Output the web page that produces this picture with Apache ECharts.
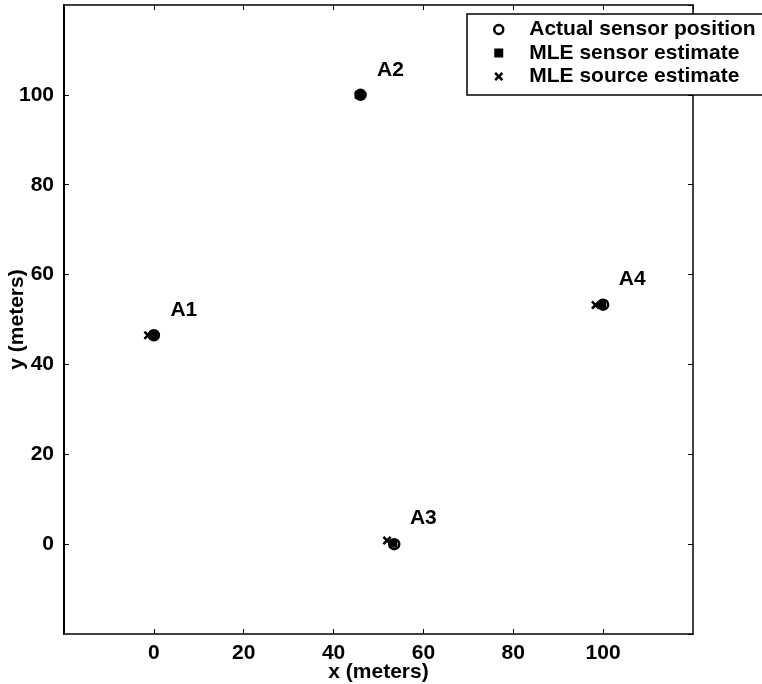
<!DOCTYPE html>
<html><head><meta charset="utf-8">
<script src="https://cdn.jsdelivr.net/npm/echarts@6/dist/echarts.min.js"></script>
<style>html,body{margin:0;padding:0;background:#fff}#c{width:762px;height:684px}</style>
</head><body><div id="c"></div>
<script>
const sensorNames = ['A1','A2','A3','A4'];
const actualSensor = [[0,46.5],[46,100],[53.5,0],[100,53.3]];
const mleSensor = [[0,46.5],[46,100],[53.3,0.1],[99.8,53.3]];
const mleSource = [[-1.3,46.5],[45.6,100],[51.9,0.8],[98.3,53.2]];
const xTicks = {min:-20,max:120,interval:20};
const yTicks = {min:-20,max:120,interval:20};

const crossPath = 'path://M0,2 L2,0 L5,3 L8,0 L10,2 L7,5 L10,8 L8,10 L5,7 L2,10 L0,8 L3,5 Z';
const font = 'Liberation Sans, Arial, Helvetica, sans-serif';
const FS = 21;
const chart = echarts.init(document.getElementById('c'));
const line = w => ({show:true, onZero:false, lineStyle:{color:'#000', width:w}});
const tick = {inside:true, length:5, lineStyle:{color:'#000', width:1}};
chart.setOption({
  animation:false,
  backgroundColor:'#fff',
  grid:{left:64, top:5, width:629, height:629, containLabel:false, outerBoundsMode:'none'},
  legend:{
    orient:'vertical', left:467, top:14,
    backgroundColor:'#fff', borderColor:'#000', borderWidth:1.5,
    padding:[5,30,8,26], itemGap:2.5, itemWidth:9, itemHeight:9,
    textStyle:{fontFamily:font, fontWeight:'bold', fontSize:FS, lineHeight:21, color:'#000', padding:[0,0,0,21]},
    data:[
      {name:'Actual sensor position', icon:'circle', itemStyle:{color:'#fff', borderColor:'#000', borderWidth:2.5, opacity:1}},
      {name:'MLE sensor estimate', icon:'rect', itemStyle:{color:'#000', opacity:1}},
      {name:'MLE source estimate', icon:crossPath, itemStyle:{color:'#000', opacity:1}}
    ]
  },
  xAxis:[{
    type:'value', min:xTicks.min, max:xTicks.max, interval:xTicks.interval,
    name:'x (meters)', nameLocation:'middle', nameGap:28, nameMoveOverlap:false,
    nameTextStyle:{fontFamily:font, fontWeight:'bold', fontSize:FS, color:'#000'},
    axisLine:line(1.5), axisTick:tick,
    axisLabel:{fontFamily:font, fontWeight:'bold', fontSize:FS, color:'#000', margin:9, showMinLabel:false, showMaxLabel:false},
    splitLine:{show:false}
  },{
    type:'value', position:'top', min:xTicks.min, max:xTicks.max, interval:xTicks.interval,
    axisLine:line(1.5), axisTick:tick,
    axisLabel:{show:false}, splitLine:{show:false}
  }],
  yAxis:[{
    type:'value', min:yTicks.min, max:yTicks.max, interval:yTicks.interval,
    name:'y (meters)', nameLocation:'middle', nameGap:36, nameRotate:90, nameMoveOverlap:false,
    nameTextStyle:{fontFamily:font, fontWeight:'bold', fontSize:FS, color:'#000'},
    axisLine:line(2), axisTick:tick,
    axisLabel:{fontFamily:font, fontWeight:'bold', fontSize:FS, color:'#000', margin:10, showMinLabel:false, showMaxLabel:false},
    splitLine:{show:false}
  },{
    type:'value', position:'right', min:yTicks.min, max:yTicks.max, interval:yTicks.interval,
    axisLine:line(1.5), axisTick:tick,
    axisLabel:{show:false}, splitLine:{show:false}
  }],
  series:[
    {name:'MLE source estimate', type:'scatter', symbol:crossPath, symbolSize:9,
      itemStyle:{color:'#000', opacity:1}, data:mleSource, z:3},
    {name:'Actual sensor position', type:'scatter', symbol:'circle', symbolSize:10,
      itemStyle:{color:'#fff', borderColor:'#000', borderWidth:2.5, opacity:1}, data:actualSensor, z:4},
    {name:'MLE sensor estimate', type:'scatter', symbol:'rect', symbolSize:8,
      itemStyle:{color:'#000', opacity:1}, z:5,
      data:mleSensor.map((p,i)=>({value:p, name:sensorNames[i]})),
      label:{show:true, formatter:'{b}', position:'inside', offset:[30,-25],
        fontFamily:font, fontWeight:'bold', fontSize:FS, color:'#000', textBorderWidth:0}}
  ]
});
</script></body></html>
